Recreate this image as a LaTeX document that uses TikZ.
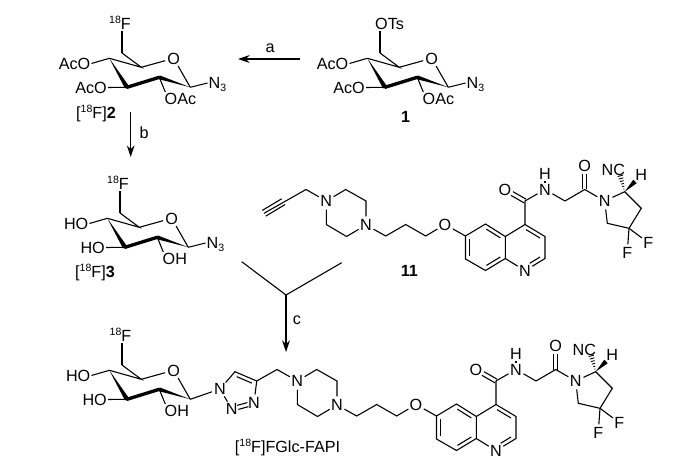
\documentclass[tikz,border=0pt]{standalone}
\usepackage{fontspec}
\setmainfont{Liberation Sans}
\usetikzlibrary{arrows.meta,calc,positioning}
\newcommand{\up}[1]{\raisebox{3.5pt}{\fontsize{6}{6}\selectfont #1}}
\newcommand{\dn}[1]{\raisebox{-1.8pt}{\fontsize{6}{6}\selectfont #1}}
\newcommand{\dbl}[4][]{\draw[#1] ($(#2)!.15!(#3)!2.2pt!#4:(#3)$) -- ($(#3)!.15!(#2)!-2.2pt!#4:(#2)$);}
\newcommand{\twin}[3][]{
	\draw[bond,#1] ($(#2)!1.2pt!90:(#3)$) -- ($(#3)!-1.2pt!90:(#2)$);
	\draw[bond,#1] ($(#2)!1.2pt!-90:(#3)$) -- ($(#3)!-1.2pt!-90:(#2)$);}
\tikzset{>={Stealth[length=6.6pt,width=4.4pt]},
	bond/.style={line width=0.62pt},
	atom/.style={circle,inner sep=0pt,text height=6.6pt,text depth=0pt,font=\fontsize{9.2}{11}\selectfont},
	sub/.style={rectangle,inner sep=0.5pt,text height=6.6pt,text depth=0pt,font=\fontsize{9.2}{11}\selectfont},
	pics/glyco/.style 2 args={code={
		\coordinate (c6) at (380,53);
		\coordinate (c5) at (399.3,67.3);
		\node (o) at (431.7,58.3) [atom] {O};
		\coordinate (c1) at (448.3,87.3);
		\coordinate (c2) at (417.3,77.3);
		\coordinate (c3) at (385,87.3);
		\coordinate (c4) at (367.3,58.3);
		\node (oc4) at (349.5,63.5) [sub,anchor=east] {#1};
		\node (oc3) at (366,87.5) [sub,anchor=east] {#1};
		\node (oc2) at (421.5,99) [sub,anchor=west] {#2};
		\draw [bond] (c6) -- (c5) -- (c4);
		\draw [bond] (c5) -- (o) -- (c1);
		\draw [bond] (c4) -- (oc4.east);
		\draw [bond] (c3) -- (oc3.east);
		\draw [bond] (c2) -- ([xshift=1pt]oc2.north west);
		\fill (c4) -- ($(c3)!1.3pt!90:(c4)$) -- ($(c3)!1.3pt!-90:(c4)$) -- cycle;
		\fill (c1) -- ($(c2)!1.1pt!90:(c1)$) -- ($(c2)!1.1pt!-90:(c1)$) -- cycle;
		\draw [line width=1.9pt,line cap=round] (c3) -- (c2);
	}},
	pics/fapi/.style={code={
		\coordinate (ch) at (277,369.5);
		\node (np1) at (297.3,381) [atom] {N};
		\coordinate (p1) at (316.7,369.5);
		\coordinate (p2) at (337,381);
		\node (np2) at (337,405) [atom] {N};
		\coordinate (p3) at (317.5,416.5);
		\coordinate (p4) at (297.3,404.5);
		\coordinate (l1) at (356.7,416);
		\coordinate (l2) at (376.7,404.5);
		\coordinate (l3) at (396.7,416);
		\node (oe) at (416,404.5) [atom] {O};
		\coordinate (q6) at (436.5,416);
		\coordinate (q5) at (456.5,404);
		\coordinate (q4a) at (476.3,416.5);
		\coordinate (q8a) at (476.3,438.5);
		\coordinate (q8) at (456.5,450.5);
		\coordinate (q7) at (436.5,439);
		\coordinate (q4) at (496,404.5);
		\coordinate (q3) at (516,416.5);
		\coordinate (q2) at (516,438.5);
		\node (nq) at (496,450.7) [atom] {N};
		\coordinate (co1) at (496,381);
		\node (o1) at (476,369.5) [atom] {O};
		\node (nh) at (516,369.5) [atom] {N};
		\node (hn) at (516,354) [atom] {H};
		\coordinate (gly) at (536,381);
		\coordinate (co2) at (555.7,369.5);
		\node (o2) at (555.7,346) [atom] {O};
		\node (npy) at (575.7,381) [atom] {N};
		\coordinate (ca) at (595.7,371.7);
		\coordinate (cb) at (612.3,388.3);
		\coordinate (cf) at (600,408.3);
		\coordinate (cd) at (578.3,403.3);
		\node (f1) at (619.3,422.7) [atom] {F};
		\node (f2) at (598.3,432.3) [atom] {F};
		\node (hc) at (612.3,354.3) [atom] {H};
		\node (cn) at (584.3,349.3) [sub] {NC};
		\coordinate (hw) at (606,361.5);
		\coordinate (cw) at (591,354.5);
		\draw [bond] (ch) -- (np1) -- (p1) -- (p2) -- (np2) -- (p3) -- (p4) -- (np1);
		\draw [bond] (np2) -- (l1) -- (l2) -- (l3) -- (oe) -- (q6) -- (q5) -- (q4a) -- (q8a) -- (q8) -- (q7) -- (q6);
		\draw [bond] (q4a) -- (q4) -- (q3) -- (q2) -- (nq) -- (q8a);
		\draw [bond] (q4) -- (co1) -- (nh) -- (gly) -- (co2) -- (npy) -- (ca) -- (cb) -- (cf) -- (cd) -- (npy);
		\draw [bond] (cf) -- (f1);
		\draw [bond] (cf) -- (f2);
		\draw [bond] (hn) -- (nh);
		\twin[shorten >=4.6pt]{co1}{o1}
		\twin[shorten >=4.6pt]{co2}{o2}
		\dbl[bond]{q6}{q7}{90}
		\dbl[bond]{q5}{q4a}{-90}
		\dbl[bond]{q8}{q8a}{90}
		\dbl[bond]{q4}{q3}{-90}
		\dbl[bond,shorten >=2.5pt]{q2}{nq}{-90}
		\fill (ca) -- ($(hw)!1.4pt!90:(ca)$) -- ($(hw)!1.4pt!-90:(ca)$) -- cycle;
		\foreach \k in {1,...,6}
			\draw [line width=0.5pt] ($(ca)!{\k/6.5}!(cw)!{\k*0.27pt}!90:(cw)$) -- ($(ca)!{\k/6.5}!(cw)!{-\k*0.27pt}!90:(cw)$);
	}}}
\begin{document}
\begin{tikzpicture}[x=0.02cm,y=-0.02cm]
	\useasboundingbox (0,0) rectangle (680,466);
	\pic (a) at (0,0) {glyco={AcO}{OAc}};
	\pic (b) at (-258,0) {glyco={AcO}{OAc}};
	\pic (d) at (-260,160) {glyco={HO}{OH}};
	\pic (e) at (-258,312) {glyco={HO}{OH}};
	\pic (g) at (29,-180) {fapi};
	\pic (h) at (0,0) {fapi};
	\node (ots) at (374,24) [sub,anchor=west] {OTs};
	\node (fb) at (132,23.5) [sub,anchor=east] {\up{18}F};
	\node (fd) at (130,183.5) [sub,anchor=east] {\up{18}F};
	\node (fe) at (132.5,335.5) [sub,anchor=east] {\up{18}F};
	\draw [bond] (ac6) -- (ots.south -| ac6);
	\draw [bond] (bc6) -- (fb.south -| bc6);
	\draw [bond] (dc6) -- (fd.south -| dc6);
	\draw [bond] (ec6) -- (fe.south -| ec6);
	\node (na) at (465.5,83) [sub,anchor=west] {N\dn{3}};
	\node (nb) at (207.5,83) [sub,anchor=west] {N\dn{3}};
	\node (nd) at (205.5,243) [sub,anchor=west] {N\dn{3}};
	\draw [bond] (ac1) -- (na.west);
	\draw [bond] (bc1) -- (nb.west);
	\draw [bond] (dc1) -- (nd.west);
	\node (t1) at (220,389) [atom] {N};
	\coordinate (t5) at (235,371.7);
	\coordinate (t4) at (256.7,381);
	\node (t3) at (254,403) [atom] {N};
	\node (t2) at (231.7,409) [atom] {N};
	\draw [bond] (ec1) -- (t1) -- (t5) -- (t4) -- (t3);
	\draw [bond] (t4) -- (hch);
	\draw [bond] (t2) -- (t1);
	\twin[shorten >=3.6pt,shorten <=3.6pt]{t3}{t2}
	\dbl[bond]{t5}{t4}{-90}
	\coordinate (y1) at (264,213.3);
	\coordinate (y2) at (283.3,201.7);
	\draw [bond] (y1) -- (gch);
	\draw [bond] ($(y1)!1.9pt!90:(y2)$) -- ($(y2)!-1.9pt!90:(y1)$);
	\draw [bond] ($(y1)!1.9pt!-90:(y2)$) -- ($(y2)!-1.9pt!-90:(y1)$);
	\node (lba) at (405.7,117) [sub] {\textbf{1}};
	\node (lbb) at (96,112.7) [sub] {[\up{18}F]\textbf{2}};
	\node (lbd) at (95,271.7) [sub] {[\up{18}F]\textbf{3}};
	\node (lbg) at (409.3,271) [sub] {\textbf{11}};
	\node (lbh) at (287.5,446.7) [sub] {[\up{18}F]FGlc-FAPI};
	\coordinate (a0) at (300,59);
	\coordinate (a1) at (238,59);
	\node (ta) at (270,47) [sub] {a};
	\coordinate (b0) at (130.7,112);
	\coordinate (b1) at (130.7,157);
	\node (tb) at (144,133) [sub] {b};
	\coordinate (m1) at (241.7,261.7);
	\coordinate (m2) at (341.7,262.7);
	\coordinate (m0) at (286,295);
	\coordinate (m3) at (286,352);
	\node (tc) at (297,319) [sub] {c};
	\draw [bond,->] (a0) -- (a1);
	\draw [bond,->] (b0) -- (b1);
	\draw [bond] (m1) -- (m0) -- (m2);
	\draw [bond,->] (m0) -- (m3);
\end{tikzpicture}
\end{document}
